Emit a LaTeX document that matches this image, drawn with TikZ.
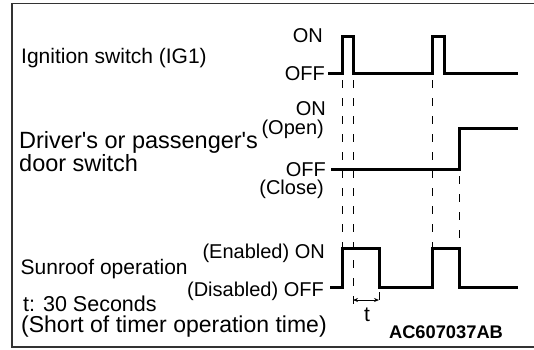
\documentclass[tikz,border=0pt]{standalone}
\usepackage{fontspec}
\setmainfont{Liberation Sans}
\usetikzlibrary{arrows.meta}

\tikzset{
  wave/.style={line width=3pt, line join=miter},
  guide/.style={line width=0.9pt, dash pattern=on 8pt off 10pt},
  lvl/.style={inner sep=0pt, anchor=base east, font=\fontsize{20}{22}\selectfont},
  rowname/.style={inner sep=0pt, anchor=base west, font=\fontsize{21}{23}\selectfont},
  tspan/.style={{Stealth[length=5pt,width=4pt]}-{Stealth[length=5pt,width=4pt]}, line width=0.8pt}
}

\begin{document}
\begin{tikzpicture}[x=1pt,y=-1pt]
\useasboundingbox (0,0) rectangle (534,349);

% Rahmen
\draw[line width=1.3pt, black!80] (534,3.5) -- (12,3.5) -- (12,347) -- (534,347);

% Pegel (y) und Schaltzeiten (x)
\def\igoff{73}  \def\igon{36}
\def\dsoff{169} \def\dson{128}
\def\sroff{287} \def\sron{248}
\def\tA{342} \def\tB{353} \def\tC{379} \def\tD{432} \def\tE{444} \def\tF{459}
\def\tEnd{518}

% Zuendschalter (IG1)
\node[rowname] (igname) at (21,63) {Ignition switch (IG1)};
\node[lvl] (igonlbl) at (323,42) {ON};
\node[lvl] (igofflbl) at (325,80) {OFF};
\draw[wave] (328,\igoff) -- (\tA,\igoff) -- (\tA,\igon) -- (\tB,\igon) -- (\tB,\igoff)
  -- (\tD,\igoff) -- (\tD,\igon) -- (\tE,\igon) -- (\tE,\igoff) -- (\tEnd,\igoff);

% Tuerschalter
\node[rowname, font=\fontsize{23.5}{25}\selectfont] (dsname1) at (19,148)
  {Driver\textquotesingle s or passenger\textquotesingle s};
\node[rowname, font=\fontsize{23.5}{25}\selectfont] (dsname2) at (19,171) {door switch};
\node[lvl] (dsonlbl) at (326,115) {ON};
\node[lvl] (dsopen) at (324,134) {(Open)};
\node[lvl] (dsofflbl) at (326,176) {OFF};
\node[lvl] (dsclose) at (324,194) {(Close)};
\draw[wave] (331,\dsoff) -- (\tF,\dsoff) -- (\tF,\dson) -- (\tEnd,\dson);

% Schiebedach
\node[rowname] (srname) at (20.5,274) {Sunroof operation};
\node[lvl] (sronlbl) at (325,258) {(Enabled) ON};
\node[lvl] (srofflbl) at (324,296) {(Disabled) OFF};
\draw[wave] (330,\sroff) -- (\tA,\sroff) -- (\tA,\sron) -- (\tC,\sron) -- (\tC,\sroff)
  -- (\tD,\sroff) -- (\tD,\sron) -- (\tF,\sron) -- (\tF,\sroff) -- (\tEnd,\sroff);

% Hilfslinien
\draw[guide] (\tA,80) -- (\tA,\sron);
\draw[guide] (\tB,80) -- (\tB,305);
\draw[guide] (\tD,80) -- (\tD,\sron);
\draw[guide] (\tF,176) -- (\tF,\sron);
\draw[guide] (\tC,292) -- (\tC,305);

% Zeit t
\coordinate (tl) at (\tB,300);
\coordinate (tr) at (\tC,300);
\draw[tspan] (tl) -- (tr);
\node[inner sep=0pt, anchor=base, font=\fontsize{21}{23}\selectfont] (tlbl) at (367,321) {t};

% Fussnote
\node[rowname, font=\fontsize{21.5}{23}\selectfont] (note1) at (23,311.5) {t: 30 Seconds};
\node[rowname, font=\fontsize{23}{24}\selectfont] (note2) at (21,332) {(Short of timer operation time)};
\node[inner sep=0pt, anchor=base, font=\bfseries\fontsize{18.3}{20}\selectfont] (code) at (446,338) {AC607037AB};
\end{tikzpicture}
\end{document}
